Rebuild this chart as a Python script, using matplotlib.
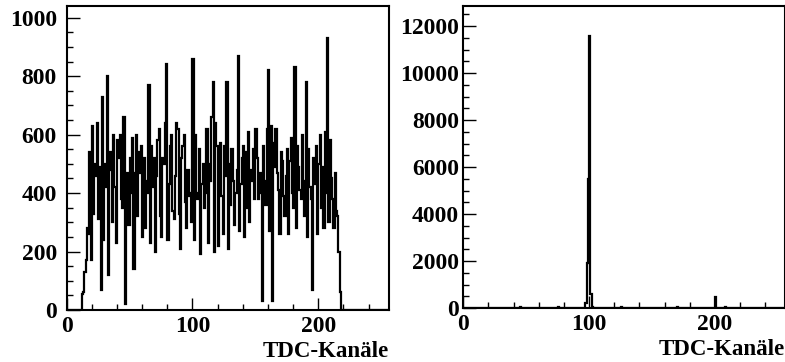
import numpy as np
import matplotlib
matplotlib.use("Agg")
import matplotlib.pyplot as plt
from matplotlib.ticker import MultipleLocator

# ---- data ----
nbins = 256
left_start = 12
left_counts = [
    55, 60, 130, 170, 280, 260, 540, 170, 630, 330,   # 12-21
    500, 460, 640, 310, 490, 70, 730, 240, 500, 420,  # 22-31
    800, 120, 540, 480, 300, 600, 420, 230, 580, 520, # 32-41
    600, 380, 350, 660, 20, 440, 470, 290, 520, 400,  # 42-51
    590, 140, 470, 600, 320, 540, 470, 560, 250, 520, # 52-61
    280, 440, 400, 770, 230, 560, 420, 520, 200, 460, # 62-71
    580, 620, 320, 250, 520, 500, 640, 840, 240, 430, # 72-81
    560, 600, 340, 310, 460, 640, 620, 330, 210, 520, # 82-91
    560, 600, 370, 280, 480, 390, 400, 300, 860, 240, # 92-101
    600, 380, 400, 550, 190, 430, 500, 350, 400, 620, # 102-111
    230, 500, 440, 660, 780, 200, 640, 560, 220, 480, # 112-121
    570, 390, 260, 560, 460, 780, 210, 500, 360, 550, # 122-131
    440, 290, 400, 480, 870, 270, 430, 520, 560, 250, # 132-141
    540, 350, 610, 300, 480, 440, 550, 380, 620, 520, # 142-151
    380, 400, 470, 30, 560, 440, 360, 620, 820, 270,  # 152-161
    630, 30, 570, 490, 620, 470, 410, 260, 540, 510,  # 162-171
    390, 320, 460, 550, 260, 510, 590, 400, 350, 830, # 172-181
    280, 560, 490, 410, 380, 600, 440, 320, 780, 250, # 182-191
    550, 420, 380, 70, 520, 430, 560, 260, 500, 600,  # 192-201
    350, 490, 280, 610, 400, 930, 300, 580, 450, 380, # 202-211
    280, 470, 340, 320, 200, 60,                      # 212-217
]

right_bins = [20, 45, 60, 75, 97, 98, 99, 100, 101, 102, 115, 125, 150, 170, 200, 208]
right_vals = [20, 25, 20, 25, 200, 1900, 5500, 11600, 600, 60, 20, 25, 20, 25, 450, 30]

left_hist = np.zeros(nbins)
left_hist[left_start:left_start + len(left_counts)] = left_counts
right_hist = np.zeros(nbins)
right_hist[right_bins] = right_vals
edges = np.arange(nbins + 1)

# ---- plotting ----
plt.rcParams['font.family'] = ['Liberation Serif', 'DejaVu Serif']
plt.rcParams['font.weight'] = 'bold'

fig = plt.figure(figsize=(7.85, 3.62), dpi=100)
ax1 = fig.add_axes([66.7 / 785, 52 / 362, 322 / 785, 304 / 362])
ax2 = fig.add_axes([463.3 / 785, 54 / 362, 322 / 785, 302.3 / 362])

for ax, h, ymax, ymaj, ymin, ypad in [(ax1, left_hist, 1040, 200, 50, 7),
                                        (ax2, right_hist, 12870, 2000, 500, 3)]:
    ax.stairs(h, edges, color='black', linewidth=1.6)
    ax.set_xlim(0, 256)
    ax.set_ylim(0, ymax)
    ax.xaxis.set_major_locator(MultipleLocator(100))
    ax.xaxis.set_minor_locator(MultipleLocator(20))
    ax.yaxis.set_major_locator(MultipleLocator(ymaj))
    ax.yaxis.set_minor_locator(MultipleLocator(ymin))
    ax.tick_params(which='both', direction='in', top=False, right=False,
                   labelsize=17, width=1.0)
    ax.tick_params(which='major', length=9)
    ax.tick_params(axis='x', which='major', pad=4)
    ax.tick_params(axis='y', which='major', pad=ypad)
    ax.tick_params(which='minor', length=4.5)
    for lab in ax.get_xticklabels() + ax.get_yticklabels():
        lab.set_fontweight('bold')
    for s in ax.spines.values():
        s.set_linewidth(1.5)
    ax.set_xlabel('TDC-Kanäle', fontsize=16.5, fontweight='bold', loc='right',
                  labelpad=3)

fig.savefig('out.png', dpi=100)
